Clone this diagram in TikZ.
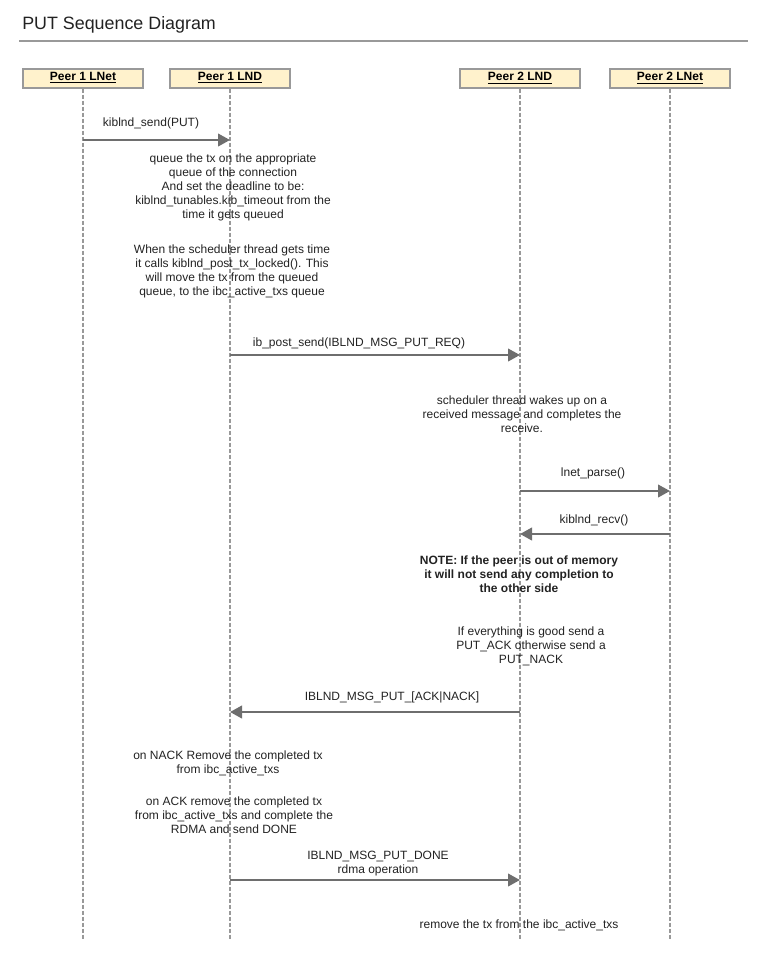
\documentclass[tikz,border=0pt]{standalone}
\usepackage{fontspec}
\setmainfont{Liberation Sans}
\usetikzlibrary{arrows.meta,positioning}
\definecolor{boxfill}{HTML}{FFF2CC}
\definecolor{boxgray}{HTML}{999999}
\definecolor{arrowgray}{HTML}{6E6E6E}
\definecolor{textgray}{HTML}{222222}

\tikzset{
  actor/.style={draw=boxgray, line width=1.5pt, fill=boxfill, minimum width=90pt,
    minimum height=14.25pt, inner sep=0pt, font=\fontsize{9}{10.5}\selectfont\bfseries},
  lifeline/.style={draw=boxgray, line width=0.9pt, dash pattern=on 3pt off 1.5pt},
  msg/.style={draw=arrowgray, line width=1.5pt, -{Triangle[length=9pt,width=9.5pt]}},
  note/.style={align=center, inner sep=0pt, text=textgray, font=\fontsize{9}{10.5}\selectfont},
}

\begin{document}
\begin{tikzpicture}[x=0.75pt,y=-0.75pt]
  \useasboundingbox (0,0) rectangle (772,961);
  % title
  \node[anchor=base west, inner sep=0pt, text=textgray, font=\fontsize{13.4}{15}\selectfont] (title) at (22,29) {PUT Sequence Diagram};
  \draw[boxgray, line width=1.5pt] (19,41) -- (748,41);

  % define the actors
  \node[actor] (p1net) at (83,78) {\underline{Peer 1 LNet}};
  \node[actor] (p1lnd) at (230,78) {\underline{Peer 1 LND}};
  \node[actor] (p2lnd) at (520,78) {\underline{Peer 2 LND}};
  \node[actor] (p2net) at (670,78) {\underline{Peer 2 LNet}};

  % define the lifeline ends
  \coordinate (p1net-end) at (83,940);
  \coordinate (p1lnd-end) at (230,940);
  \coordinate (p2lnd-end) at (520,940);
  \coordinate (p2net-end) at (670,940);

  % draw the lifelines
  \draw[lifeline] (p1net) -- (p1net-end);
  \draw[lifeline] (p1lnd) -- (p1lnd-end);
  \draw[lifeline] (p2lnd) -- (p2lnd-end);
  \draw[lifeline] (p2net) -- (p2net-end);

  % define the message ends
  \coordinate (send-a) at (83,140);   \coordinate (send-b) at (230,140);
  \coordinate (req-a) at (230,355);   \coordinate (req-b) at (520,355);
  \coordinate (parse-a) at (520,491); \coordinate (parse-b) at (670,491);
  \coordinate (recv-a) at (670,534);  \coordinate (recv-b) at (520,534);
  \coordinate (ack-a) at (520,712);   \coordinate (ack-b) at (230,712);
  \coordinate (done-a) at (230,880);  \coordinate (done-b) at (520,880);

  % draw the messages
  \draw[msg] (send-a) -- (send-b);
  \node[note] (send-lbl) at (151,123) {kiblnd\_send(PUT)};
  \draw[msg] (req-a) -- (req-b);
  \node[note] (req-lbl) at (359,343) {ib\_post\_send(IBLND\_MSG\_PUT\_REQ)};
  \draw[msg] (parse-a) -- (parse-b);
  \node[note] (parse-lbl) at (593,473) {lnet\_parse()};
  \draw[msg] (recv-a) -- (recv-b);
  \node[note] (recv-lbl) at (594,520) {kiblnd\_recv()};
  \draw[msg] (ack-a) -- (ack-b);
  \node[note] (ack-lbl) at (392,697) {IBLND\_MSG\_PUT\_[ACK|NACK]};
  \draw[msg] (done-a) -- (done-b);
  \node[note] (done-lbl) at (378,863.5) {IBLND\_MSG\_PUT\_DONE\\rdma operation};

  % the notes
  \node[note] (queue) at (233,187) {queue the tx on the appropriate\\queue of the connection\\And set the deadline to be:\\kiblnd\_tunables.kib\_timeout from the\\time it gets queued};
  \node[note] (post) at (232,271) {When the scheduler thread gets time\\it calls kiblnd\_post\_tx\_locked(). This\\will move the tx from the queued\\queue, to the ibc\_active\_txs queue};
  \node[note] (wake) at (522,414.5) {scheduler thread wakes up on a\\received message and completes the\\receive.};
  \node[note, font=\fontsize{9}{10.5}\selectfont\bfseries] (oom) at (519,574.5) {NOTE: If the peer is out of memory\\it will not send any completion to\\the other side};
  \node[note] (good) at (531,646.5) {If everything is good send a\\PUT\_ACK otherwise send a\\PUT\_NACK};
  \node[note] (nack) at (228,763) {on NACK Remove the completed tx\\from ibc\_active\_txs};
  \node[note] (ackrm) at (234,815.5) {on ACK remove the completed tx\\from ibc\_active\_txs and complete the\\RDMA and send DONE};
  \node[note] (remove) at (519,925) {remove the tx from the ibc\_active\_txs};
\end{tikzpicture}
\end{document}
